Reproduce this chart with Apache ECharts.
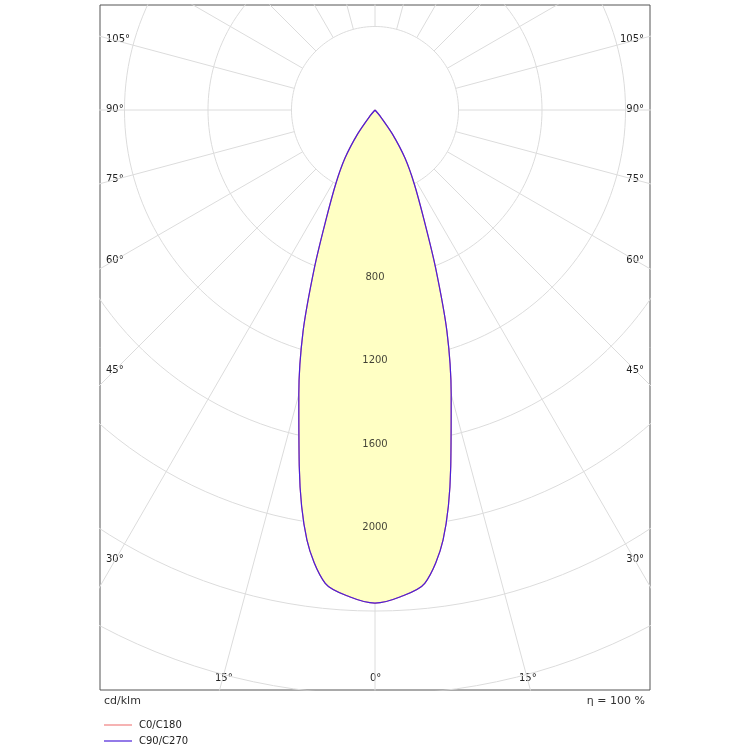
<!DOCTYPE html>
<html>
<head>
<meta charset="utf-8">
<script src="https://cdn.jsdelivr.net/npm/echarts@6/dist/echarts.min.js"></script>
<style>html,body{margin:0;padding:0;background:#fff}#chart{width:750px;height:750px}</style>
</head>
<body>
<div id="chart"></div>
<script>
// gamma angles (deg from nadir) and intensity in cd/klm
var gammaAngles = [0, 3, 6, 9, 12, 15, 18, 21, 24, 28, 32, 36, 40, 45];
var intensityC0 = [2362, 2335, 2280, 2085, 1745, 1410, 1115, 810, 580, 400, 270, 140, 40, 0];
var intensityC90 = [2362, 2335, 2280, 2085, 1745, 1410, 1115, 810, 580, 400, 270, 140, 40, 0];
var radiusTicks = [800, 1200, 1600, 2000];
var gridRadii = [400, 800, 1200, 1600, 2000, 2400, 2800, 3200];

var k = 4.79; // cd per pixel
var rad = Math.PI / 180;

function curve(vals) {
  var pts = [];
  for (var i = gammaAngles.length - 1; i >= 0; i--) {
    var a = -gammaAngles[i] * rad;
    pts.push([vals[i] * Math.sin(a), -vals[i] * Math.cos(a)]);
  }
  for (var j = 1; j < gammaAngles.length; j++) {
    var b = gammaAngles[j] * rad;
    pts.push([vals[j] * Math.sin(b), -vals[j] * Math.cos(b)]);
  }
  return pts;
}

var series = [];
// polar grid: circles
gridRadii.forEach(function (r) {
  var pts = [];
  for (var t = 0; t <= 360; t += 2) pts.push([r * Math.sin(t * rad), -r * Math.cos(t * rad)]);
  series.push({type: 'line', data: pts, symbol: 'none', silent: true,
    lineStyle: {color: '#dcdcdc', width: 1}, z: 1});
});
// polar grid: rays every 15 deg starting at inner circle
for (var t = 0; t < 360; t += 15) {
  series.push({type: 'line', symbol: 'none', silent: true,
    data: [[400 * Math.sin(t * rad), -400 * Math.cos(t * rad)], [4000 * Math.sin(t * rad), -4000 * Math.cos(t * rad)]],
    lineStyle: {color: '#dcdcdc', width: 1}, z: 1});
}
// filled beam
series.push({
  type: 'custom', z: 2, silent: true,
  data: [0],
  renderItem: function (params, api) {
    var pts = curve(intensityC90).map(function (p) { return api.coord(p); });
    return {type: 'polygon', shape: {points: pts, smooth: 0.3}, style: {fill: '#ffffc4'}};
  }
});
series.push({name: 'C0/C180', type: 'line', data: curve(intensityC0), symbol: 'none', smooth: 0.3,
  lineStyle: {color: '#f08080', width: 1.2}, z: 3});
series.push({name: 'C90/C270', type: 'line', data: curve(intensityC90), symbol: 'none', smooth: 0.3,
  lineStyle: {color: '#4a20d8', width: 1.2}, z: 4});
series.push({type: 'scatter', symbolSize: 0, silent: true, z: 5,
  data: radiusTicks.map(function (r) { return [0, -r]; }),
  label: {show: true, position: 'inside', fontSize: 10, color: '#111', fontFamily: 'DejaVu Sans',
    formatter: function (p) { return String(-p.value[1]); }}});

var angleLabels = [
  ['105°', 40], ['90°', 110], ['75°', 180], ['60°', 261], ['45°', 371], ['30°', 560]
];
var txt = {fontSize: 10, fill: '#222', fontFamily: 'DejaVu Sans'};
var graphics = [];
angleLabels.forEach(function (l) {
  graphics.push({type: 'text', left: 106, top: l[1] - 6, style: Object.assign({text: l[0]}, txt)});
  graphics.push({type: 'text', right: 106, top: l[1] - 6, style: Object.assign({text: l[0]}, txt)});
});
graphics.push({type: 'text', left: 215, top: 673, style: Object.assign({text: '15°'}, txt)});
graphics.push({type: 'text', left: 370, top: 673, style: Object.assign({text: '0°'}, txt)});
graphics.push({type: 'text', left: 519, top: 673, style: Object.assign({text: '15°'}, txt)});
graphics.push({type: 'text', left: 104, top: 696, style: {text: 'cd/klm', fontSize: 11, fill: '#333', fontFamily: 'DejaVu Sans'}});
graphics.push({type: 'text', right: 105, top: 696, style: {text: 'η = 100 %', fontSize: 11, fill: '#333', fontFamily: 'DejaVu Sans'}});
// legend
graphics.push({type: 'line', shape: {x1: 104, y1: 725, x2: 132, y2: 725}, style: {stroke: '#f08080', lineWidth: 1.2}});
graphics.push({type: 'text', left: 139, top: 720, style: Object.assign({text: 'C0/C180'}, txt)});
graphics.push({type: 'line', shape: {x1: 104, y1: 741, x2: 132, y2: 741}, style: {stroke: '#4a20d8', lineWidth: 1.2}});
graphics.push({type: 'text', left: 139, top: 736, style: Object.assign({text: 'C90/C270'}, txt)});

var chart = echarts.init(document.getElementById('chart'));
chart.setOption({
  animation: false,
  grid: {left: 100, right: 100, top: 5, bottom: 60, show: true, borderColor: '#555', borderWidth: 1},
  xAxis: {type: 'value', min: -275 * k, max: 275 * k, show: false},
  yAxis: {type: 'value', min: -580 * k, max: 105 * k, show: false},
  graphic: graphics,
  series: series
});
</script>
</body>
</html>
